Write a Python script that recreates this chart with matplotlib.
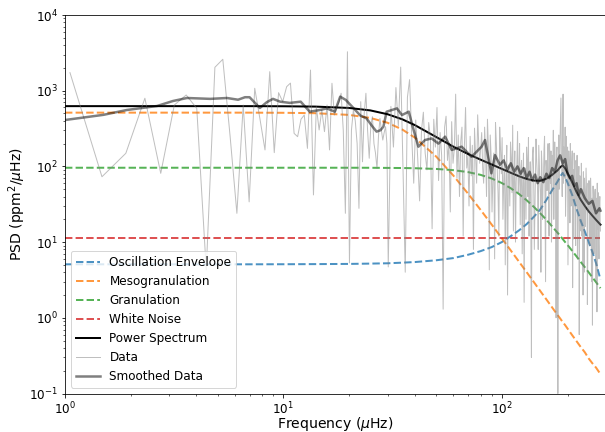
"""
Power spectral density with background model components (log-log).
"""

import matplotlib
matplotlib.use("Agg")

import matplotlib.pyplot as plt
import numpy as np

# ── figure style ───────────────────────────────────────────────────────────
plt.rcParams.update({
    "font.family":      "sans-serif",
    "font.size":        12,
    "axes.labelsize":   14,
    "legend.fontsize":  12,
    "xtick.labelsize":  12,
    "ytick.labelsize":  12,
})

DPI = 72

# ── model components ───────────────────────────────────────────────────────
model_freq = [1, 2, 3, 5, 7, 10, 14, 20, 25, 30, 35, 40, 50, 60, 70, 80, 90, 100,
              110, 120, 130, 140, 150, 160, 170, 180, 185, 190, 195, 200, 210,
              220, 230, 240, 250, 260, 270, 283]

osc_envelope = [5.09, 5.09, 5.09, 5.09, 5.09, 5.1, 5.12, 5.15, 5.2, 5.25, 5.35,
                5.45, 5.75, 6.15, 6.8, 7.6, 8.6, 10.0, 12.0, 14.3, 17.3, 21.5,
                27.0, 36.0, 48.5, 63.0, 73.0, 82.0, 72.0, 61.0, 42.0, 27.5, 19.0,
                13.8, 10.0, 7.4, 5.3, 3.2]

mesogranulation = [513, 513, 513, 513, 512.9, 510.7, 504.4, 478.9, 436.9, 376.9,
                   307.4, 239.6, 135.5, 75.7, 43.8, 26.6, 16.96, 11.25, 7.73,
                   5.49, 4.0, 2.98, 2.26, 1.75, 1.37, 1.09, 0.98, 0.88, 0.80,
                   0.72, 0.59, 0.49, 0.41, 0.35, 0.29, 0.25, 0.22, 0.18]

granulation = [96, 96, 96, 96, 96, 96, 96, 96, 95.9, 95.5, 95.2, 94.6, 92.6, 89.2,
               84.1, 77.3, 69.1, 60.3, 51.4, 43.1, 35.7, 29.3, 24.0, 19.7, 16.1,
               13.3, 12.1, 11.0, 10.0, 9.17, 7.67, 6.46, 5.46, 4.65, 3.98, 3.42,
               2.96, 2.46]

white_noise = [11.2] * len(model_freq)

power_spectrum = [625.3, 625.3, 625.3, 625.3, 625.2, 623.0, 616.7, 591.3, 549.2,
                  488.9, 419.2, 350.9, 245.1, 182.3, 145.9, 122.7, 105.9, 92.8,
                  82.3, 74.1, 68.2, 65.0, 64.5, 68.7, 77.2, 88.6, 97.3, 103.5,
                  94.0, 82.1, 61.5, 45.7, 36.1, 30.0, 25.5, 22.3, 19.7, 17.0]

freq_low = 1.054 + 0.4225 * np.arange(70)
freq_mid = 31.06 + 0.845 * np.arange(58)
freq_high = 80.9 + 1.69 * np.arange(120)
freq_high2 = 81.745 + 1.69 * np.arange(120)

data_low = [1730, 73, 149, 795, 81, 647, 877, 585, 4.3, 2037,
            2600, 250, 24, 647, 34, 1077, 420, 165, 1783, 152,
            942, 716, 1130, 1260, 273, 247, 420, 477, 173, 1874,
            42, 615, 303, 556, 288, 647, 165, 1254, 477, 600,
            700, 925, 300, 24, 3270, 5.3, 300, 556, 400, 200,
            27.9, 716, 115, 500, 925, 300, 128, 350, 454, 200,
            150, 94, 250, 432, 300, 223, 280, 335, 200, 4.7]

data_mid = [620, 180, 1100, 340, 2050, 95, 4, 820, 1400, 260,
            60, 410, 130, 35, 300, 520, 150, 90, 380, 240,
            15, 420, 180, 600, 65, 280, 140, 1.3, 330, 460,
            120, 200, 25, 390, 110, 170, 900, 70, 260, 40,
            210, 330, 12, 180, 600, 95, 140, 30, 250, 75,
            190, 8, 320, 140, 60, 480, 200, 110]

data_high = [280, 60, 150, 420, 4.3, 140, 70, 6, 200, 45,
             330, 80, 20, 140, 65, 2.0, 105, 210, 45, 14,
             160, 62, 290, 70, 17, 120, 55, 1.6, 95, 180,
             40, 12, 115, 0.3, 150, 60, 24, 230, 85, 8,
             110, 45, 160, 20, 75, 250, 3, 95, 130, 35,
             200, 60, 10, 140, 300, 55, 110, 1.0, 180, 0.1,
             260, 90, 420, 150, 40, 900, 180, 70, 22, 250,
             120, 5, 160, 60, 200, 30, 110, 2.5, 90, 150,
             35, 9, 80, 140, 25, 60, 0.6, 75, 30, 110,
             12, 50, 85, 4, 45, 20, 95, 35, 1.5, 60,
             25, 40, 9, 70, 18, 32, 0.8, 55, 28, 12,
             45, 20, 3, 38, 60, 15, 28, 6, 35, 20]

data_high2 = [95, 330, 40, 180, 260, 25, 150, 380, 90, 12,
              170, 240, 60, 5, 190, 80, 30, 130, 350, 70,
              10, 110, 45, 200, 90, 7, 150, 60, 20, 120,
              240, 55, 15, 90, 180, 8, 75, 130, 40, 190,
              65, 4, 105, 55, 170, 30, 120, 48, 200, 12,
              95, 160, 40, 75, 20, 210, 80, 150, 35, 120,
              50, 230, 800, 110, 270, 60, 140, 330, 45, 90,
              180, 35, 110, 18, 130, 65, 160, 40, 11, 95,
              50, 120, 30, 6, 70, 100, 22, 55, 14, 65,
              30, 2, 48, 70, 16, 40, 60, 22, 5, 42,
              65, 15, 30, 50, 3, 38, 22, 42, 7, 30,
              50, 18, 26, 1.2, 33, 45, 10, 24, 40, 14]

data_freq = np.concatenate([freq_low, freq_mid, freq_high, freq_high2])
data_power = np.array(data_low + data_mid + data_high + data_high2)
order = np.argsort(data_freq)
data_freq, data_power = data_freq[order], data_power[order]

smooth_freq = [1.0, 1.5, 1.92, 2.64, 3.12, 3.62, 4.62, 5.52, 6.2, 6.67, 7.0, 7.8,
               8.4, 8.96, 9.66, 10.7, 12.0, 13.2, 14.7, 15.8, 17.2, 18.2, 19.3,
               21.0, 22.5, 24.0, 25.5, 26.7, 27.8, 28.7, 29.7, 31.4, 33.1, 34.9,
               37.5, 39.5, 41.5, 44.5, 47.7, 51.3, 55, 59, 65.5, 72.7, 80.8,
               83.8, 86.6, 89.6, 93.1, 98, 102, 106, 110, 114, 118, 122, 126,
               130, 134, 138, 142, 146, 150, 155, 160, 165, 170, 175, 180, 185,
               190, 195, 200, 205, 210, 215, 220, 225, 230, 240, 250, 260, 270,
               280, 283]

smooth_power = [410, 480, 556, 628, 731, 801, 780, 801, 760, 820, 820, 591,
                706, 780, 716, 690, 716, 528, 556, 584, 528, 834, 755,
                584, 470, 432, 340, 288, 300, 335, 528, 556, 584, 477,
                528, 300, 182, 223, 234, 200, 247, 165, 182, 134, 182,
                223, 134, 81, 141, 105, 120, 90, 110, 85, 100, 80, 95,
                70, 85, 65, 78, 60, 72, 62, 80, 70, 95, 85, 120, 140,
                110, 125, 80, 70, 75, 55, 60, 42, 50, 38, 32, 35, 24,
                28, 26]

# ── plotting ────────────────────────────────────────────────────────────────
fig = plt.figure(figsize=(605 / DPI, 432 / DPI), dpi=DPI)
ax = fig.add_axes([65 / 605, 38.5 / 432, 541 / 605, 378.5 / 432])

ax.loglog(model_freq, osc_envelope, "--", color="C0", lw=2, alpha=0.8,
          label="Oscillation Envelope")
ax.loglog(model_freq, mesogranulation, "--", color="C1", lw=2, alpha=0.8,
          label="Mesogranulation")
ax.loglog(model_freq, granulation, "--", color="C2", lw=2, alpha=0.8,
          label="Granulation")
ax.loglog(model_freq, white_noise, "--", color="C3", lw=2, alpha=0.8,
          label="White Noise")
ax.loglog(model_freq, power_spectrum, "-", color="k", lw=2,
          label="Power Spectrum")
ax.loglog(data_freq, data_power, "-", color="gray", lw=1, alpha=0.5,
          label="Data")
ax.loglog(smooth_freq, smooth_power, "-", color="k", lw=2.5, alpha=0.5,
          label="Smoothed Data")

ax.set_xlim(1, 300)
ax.set_ylim(0.1, 1e4)
ax.set_xlabel(r"Frequency ($\mu$Hz)", labelpad=-2)
ax.set_ylabel(r"PSD (ppm$^2$/$\mu$Hz)", labelpad=1)
ax.legend(loc="lower left")

fig.savefig("out.png", dpi=DPI)
